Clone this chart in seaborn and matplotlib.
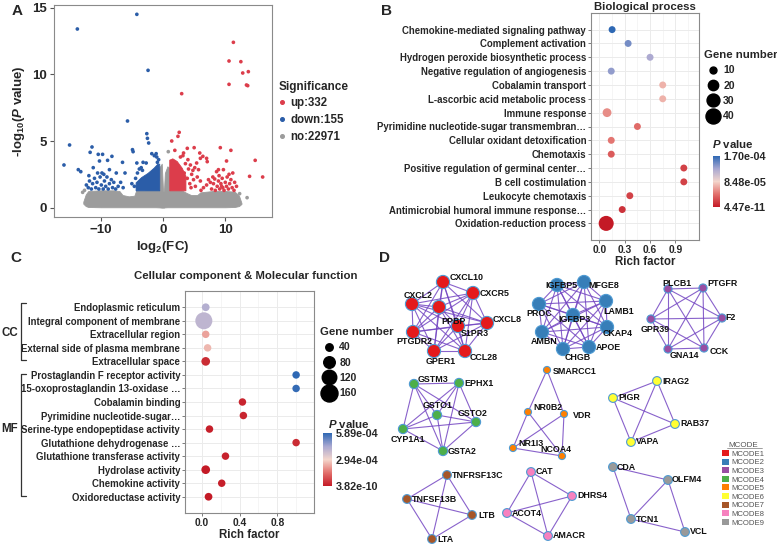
import itertools
import pandas as pd
import matplotlib
matplotlib.use("Agg")
import matplotlib.pyplot as plt
import seaborn as sns
from matplotlib.colors import LinearSegmentedColormap, Normalize
from matplotlib.cm import ScalarMappable
from matplotlib.lines import Line2D
from matplotlib.patches import Patch

# ---------------- A: volcano data ----------------
up_x = [11.3, 10.6, 12.5, 13.7, 12.8, 10.6, 13.4, 13.6, 3.0,
        2.6, 2.4, 1.4, 1.9, 3.9, 5.0, 5.9, 6.4, 6.0, 7.0, 7.1, 9.2, 10.9, 10.2, 14.8, 13.9, 16.0,
        8.9, 9.7, 8.6, 11.2, 5.4, 5.7, 4.9, 6.5, 7.0, 7.3, 8.3,
        7.8, 8.1, 8.4, 8.7, 8.9, 9.1, 9.3, 9.5, 9.6, 9.8, 10.0, 10.2, 10.3, 10.5, 10.7, 10.9, 11.1, 11.4, 11.5,
        9.0, 8.0, 10.6, 11.8, 7.6, 9.4,
        3.2, 3.6, 4.1, 4.4, 4.6, 4.3, 4.8, 3.4, 3.9, 4.0, 2.8, 3.3, 4.5, 5.2, 5.5, 6.0, 6.1, 5.1]
up_y = [12.4, 11.0, 10.95, 10.2, 10.1, 9.25, 9.2, 9.15, 8.55,
        5.65, 5.35, 5.0, 4.3, 4.45, 4.5, 4.1, 3.85, 3.7, 3.7, 3.45, 4.5, 4.3, 3.5, 3.55, 2.35, 2.3,
        2.85, 2.85, 2.7, 2.6, 3.35, 2.85, 2.1, 1.5, 1.7, 2.1, 2.15,
        1.4, 1.8, 1.3, 1.6, 2.0, 1.4, 1.8, 2.2, 1.5, 1.3, 1.9, 1.6, 2.3, 1.4, 1.8, 2.1, 1.5, 1.3, 1.9,
        2.4, 2.3, 2.5, 1.6, 1.9, 1.6,
        3.9, 3.3, 2.9, 3.2, 2.5, 1.8, 2.8, 2.6, 2.2, 3.6, 3.8, 4.1, 1.5, 1.6, 2.3, 2.0, 1.3, 3.0]

down_x = [-13.75, -4.2, -2.4, -5.7,
          -15.0, -15.9, -13.6, -13.2, -11.4, -11.7, -10.4, -9.7, -8.9, -8.2, -10.2, -11.2, -9.8, -8.6,
          -7.5, -6.5, -6.1, -4.9, -4.8, -4.2, -2.6, -2.5, -2.3, -1.1, -1.8, -1.4, -2.7, -3.2, -3.5, -1.0,
          -12.0, -11.8, -11.5, -11.3, -11.0, -10.8, -10.6, -10.3, -10.1, -9.9, -9.6, -9.4, -9.2, -9.0,
          -8.8, -8.6, -8.3, -8.1, -7.9, -7.6, -7.2, -10.5, -11.9, -12.3, -9.5, -6.8, -6.4,
          -4.6, -4.4, -4.1, -3.8, -4.0, -5.0, -3.3, -0.9, -0.7]
down_y = [13.4, 14.5, 10.3, 6.5,
          4.7, 3.2, 2.85, 2.7, 4.55, 4.15, 4.0, 4.0, 3.55, 3.85, 3.5, 3.0, 2.6, 2.85,
          2.6, 3.4, 2.6, 4.35, 4.2, 3.35, 5.55, 5.2, 4.85, 4.05, 4.05, 3.9, 3.35, 3.4, 3.0, 3.8,
          1.5, 2.0, 1.4, 1.8, 2.2, 1.5, 1.9, 1.4, 2.3, 1.7, 1.4, 2.0, 1.6, 2.3,
          1.4, 1.8, 2.1, 1.5, 1.9, 1.4, 1.6, 2.6, 2.4, 1.7, 2.5, 1.9, 1.5,
          1.6, 2.2, 2.6, 2.9, 1.5, 1.8, 2.8, 3.4, 3.6]

grey_x = [0.85, -12.9, -12.6, 12.3, 13.5]
grey_y = [4.2, 1.15, 1.3, 1.05, 0.75]

# dense areas of the cloud: outline of the grey mass and of the solid coloured blocks
cloud_x = [-12.8, -12.4, -12.0, -10.0, -8.0, -7.0, -6.5, -5.5, -4.6, -4.3, -3.0, -1.2, -0.6, -0.2,
           0.0, 0.15, 0.3, 0.7, 1.0, 1.1, 3.0, 3.8, 4.5, 5.5, 6.0, 8.0, 10.0, 11.5, 12.2, 12.6]
cloud_top = [0.45, 1.0, 1.25, 1.3, 1.3, 1.25, 0.95, 0.85, 0.9, 1.3, 1.3, 1.6, 3.0, 3.3,
             1.3, 1.2, 2.6, 3.1, 3.0, 1.3, 1.3, 1.1, 0.95, 0.95, 1.15, 1.25, 1.25, 1.2, 0.9, 0.35]
cloud_bottom = [0.3, 0.12, 0.05, 0.03, 0.03, 0.03, 0.03, 0.03, 0.03, 0.03, 0.03, 0.03, 0.02, 0.0,
                0.0, 0.0, 0.02, 0.03, 0.03, 0.03, 0.03, 0.03, 0.03, 0.03, 0.03, 0.03, 0.03, 0.05, 0.12, 0.28]
down_block_x = [-4.4, -3.5, -2.5, -1.5, -0.9, -0.6]
down_block_top = [1.9, 2.3, 2.6, 3.0, 3.3, 3.3]
up_block_x = [1.0, 1.5, 2.2, 3.0, 3.6]
up_block_top = [3.6, 3.7, 3.5, 3.0, 2.4]
sig_floor = 1.3
sig_labels = ["up:332", "down:155", "no:22971"]

# ---------------- B: biological process ----------------
bp_terms = ["Chemokine-mediated signaling pathway", "Complement activation",
            "Hydrogen peroxide biosynthetic process", "Negative regulation of angiogenesis",
            "Cobalamin transport", "L-ascorbic acid metabolic process", "Immune response",
            "Pyrimidine nucleotide-sugar transmembran\u2026", "Cellular oxidant detoxification",
            "Chemotaxis", "Positive regulation of germinal center\u2026", "B cell costimulation",
            "Leukocyte chemotaxis", "Antimicrobial humoral immune response\u2026",
            "Oxidation-reduction process"]
bp_rich = [0.15, 0.34, 0.60, 0.14, 0.75, 0.75, 0.09, 0.45, 0.14, 0.14, 1.0, 1.0, 0.36, 0.27, 0.08]
bp_genes = [8, 6, 5, 8, 4, 4, 15, 6, 10, 10, 5, 5, 6, 8, 75]
bp_p = [1.70e-4, 1.45e-4, 1.25e-4, 1.35e-4, 7.0e-5, 7.0e-5, 5.5e-5, 4.0e-5,
        4.5e-5, 3.2e-5, 2.0e-5, 2.0e-5, 2.0e-5, 1.2e-5, 4.47e-11]
bp_p_range = (4.47e-11, 1.70e-4)
bp_p_labels = ["4.47e-11", "8.48e-05", "1.70e-04"]
bp_size_breaks = [10, 20, 30, 40]

# ---------------- C: cellular component & molecular function ----------------
cm_terms = ["Endoplasmic reticulum", "Integral component of membrane", "Extracellular region",
            "External side of plasma membrane", "Extracellular space",
            "Prostaglandin F receptor activity", "15-oxoprostaglandin 13-oxidase \u2026",
            "Cobalamin binding", "Pyrimidine nucleotide-sugar\u2026",
            "Serine-type endopeptidase activity", "Glutathione dehydrogenase \u2026",
            "Glutathione transferase activity", "Hydrolase activity", "Chemokine activity",
            "Oxidoreductase activity"]
cm_rich = [0.04, 0.02, 0.04, 0.06, 0.04, 1.0, 1.0, 0.43, 0.44, 0.08, 1.0, 0.25, 0.04, 0.21, 0.07]
cm_genes = [42, 280, 38, 25, 50, 19, 19, 20, 20, 25, 20, 22, 50, 22, 42]
cm_p = [4.2e-4, 4.0e-4, 2.2e-4, 2.5e-4, 3.0e-5, 5.89e-4, 5.8e-4, 2.0e-5, 2.0e-5,
        1.0e-5, 3.0e-5, 1.5e-5, 1.0e-6, 1.0e-5, 3.82e-10]
cm_p_range = (3.82e-10, 5.89e-4)
cm_p_labels = ["3.82e-10", "2.94e-04", "5.89e-04"]
cm_size_breaks = [40, 80, 120, 160]
cm_groups = ["CC", "MF"]

# ---------------- D: MCODE modules (node layout in image pixels) ----------------
mcode_nodes = {
    "MCODE1": {"CXCL10": (443, 282), "CXCR5": (473, 293), "CXCL2": (412, 304), "PPBP": (439, 307),
               "CXCL8": (487, 323), "S1PR3": (458, 326), "PTGDR2": (413, 332), "GPER1": (434, 351),
               "CCL28": (465, 351)},
    "MCODE2": {"IGFBP5": (557, 285), "MFGE8": (584, 282), "PROC": (539, 304), "LAMB1": (606, 301),
               "IGFBP3": (573, 315), "CKAP4": (607, 327), "AMBN": (542, 332), "CHGB": (563, 349),
               "APOE": (589, 347)},
    "MCODE3": {"PLCB1": (668, 289), "PTGFR": (703, 288), "GPR39": (651, 319), "F2": (722, 318),
               "GNA14": (668, 349), "CCK": (704, 348)},
    "MCODE4": {"GSTM3": (414, 384), "EPHX1": (459, 383), "GSTO1": (437, 415), "GSTO2": (476, 422),
               "CYP1A1": (403, 429), "GSTA2": (443, 451)},
    "MCODE5": {"SMARCC1": (547, 370), "NR0B2": (528, 412), "VDR": (564, 414), "NR1I3": (513, 448),
               "NCOA4": (562, 456)},
    "MCODE6": {"IRAG2": (657, 381), "PIGR": (613, 398), "RAB37": (675, 424), "VAPA": (631, 442)},
    "MCODE7": {"TNFRSF13C": (447, 475), "TNFSF13B": (407, 499), "LTB": (472, 515), "LTA": (432, 539)},
    "MCODE8": {"CAT": (531, 472), "DHRS4": (572, 496), "ACOT4": (507, 513), "AMACR": (548, 536)},
    "MCODE9": {"CDA": (613, 467), "OLFM4": (668, 480), "TCN1": (631, 519), "VCL": (685, 532)},
}
mcode_label_pos = {
    "CXCL10": (450, 277), "CXCR5": (480, 294), "CXCL2": (404, 295), "PPBP": (441, 321),
    "CXCL8": (493, 319), "S1PR3": (461, 334), "PTGDR2": (396, 341), "GPER1": (426, 361),
    "CCL28": (470, 358), "IGFBP5": (545, 285), "MFGE8": (588, 285), "PROC": (526, 313),
    "LAMB1": (603, 312), "IGFBP3": (558, 320), "CKAP4": (603, 334), "AMBN": (531, 342),
    "CHGB": (565, 358), "APOE": (596, 348), "PLCB1": (662, 283), "PTGFR": (707, 284),
    "GPR39": (641, 330), "F2": (725, 318), "GNA14": (670, 355), "CCK": (710, 352),
    "GSTM3": (418, 379), "EPHX1": (464, 383), "GSTO1": (423, 405), "GSTO2": (458, 414),
    "CYP1A1": (391, 440), "GSTA2": (448, 451), "SMARCC1": (553, 371), "NR0B2": (533, 407),
    "VDR": (573, 416), "NR1I3": (518, 443), "NCOA4": (540, 449), "IRAG2": (662, 381),
    "PIGR": (618, 398), "RAB37": (680, 424), "VAPA": (636, 442), "TNFRSF13C": (452, 475),
    "TNFSF13B": (412, 499), "LTB": (478, 515), "LTA": (437, 539), "CAT": (536, 472),
    "DHRS4": (577, 496), "ACOT4": (512, 513), "AMACR": (553, 536), "CDA": (617, 467),
    "OLFM4": (672, 480), "TCN1": (636, 519), "VCL": (690, 532),
}
sparse_edges = {
    "MCODE5": [("SMARCC1", "NR0B2"), ("SMARCC1", "VDR"), ("NR0B2", "NR1I3"), ("NR0B2", "NCOA4"),
               ("VDR", "NR1I3"), ("VDR", "NCOA4"), ("NR1I3", "NCOA4")],
    "MCODE9": [("CDA", "OLFM4"), ("CDA", "TCN1"), ("OLFM4", "TCN1"), ("OLFM4", "VCL"), ("TCN1", "VCL")],
}

# ---------------- styling ----------------
W, H = 777, 545
RED, BLUE, GREY = "#dc3d4b", "#2b5da8", "#9c9c9c"
GRIDC = "#ebebeb"
cmap = LinearSegmentedColormap.from_list(
    "pv", ["#c41a26", "#e2706c", "#f4d6cc", "#a9a8d1", "#2e68b4"])
MCODE_COLORS = ["#e41a1c", "#377eb8", "#984ea3", "#4daf4a", "#ff7f00",
                "#ffff33", "#a65628", "#f781bf", "#999999"]

sns.set_theme(style="ticks")
plt.rcParams["font.family"] = ["Liberation Sans", "DejaVu Sans"]
plt.rcParams["font.weight"] = "bold"
plt.rcParams["axes.labelweight"] = "bold"
plt.rcParams["axes.titleweight"] = "bold"
plt.rcParams["mathtext.fontset"] = "custom"
plt.rcParams["mathtext.rm"] = "Liberation Sans:bold"
plt.rcParams["mathtext.it"] = "Liberation Sans:italic:bold"
plt.rcParams["mathtext.bf"] = "Liberation Sans:bold"


def rect(l, t, r, b):
    return [l / W, 1 - b / H, (r - l) / W, (b - t) / H]


def fxy(x, y):
    return (x / W, 1 - y / H)


def frame(ax):
    for sp in ax.spines.values():
        sp.set_color("#8a8a8a")
        sp.set_linewidth(0.8)
        sp.set_visible(True)


fig = plt.figure(figsize=(W / 100, H / 100), dpi=100)

# ---------------- panel A ----------------
axA = fig.add_axes(rect(54, 5, 272, 217))
axA.fill_between(cloud_x, cloud_bottom, cloud_top, color=GREY, lw=0.6, ec=GREY)
axA.fill_between(down_block_x, sig_floor, down_block_top, color=BLUE, lw=0.6, ec=BLUE)
axA.fill_between(up_block_x, sig_floor, up_block_top, color=RED, lw=0.6, ec=RED)
volcano = pd.DataFrame({
    "log2fc": up_x + down_x + grey_x,
    "logp": up_y + down_y + grey_y,
    "group": ["up"] * len(up_x) + ["down"] * len(down_x) + ["no"] * len(grey_x),
})
sns.scatterplot(data=volcano, x="log2fc", y="logp", hue="group",
                palette={"up": RED, "down": BLUE, "no": GREY},
                s=7, linewidth=0, legend=False, ax=axA)
axA.set_xlim(-17.5, 17.5)
axA.set_ylim(-0.7, 15.2)
axA.set_xticks([-10, 0, 10])
axA.set_yticks([0, 5, 10, 15])
axA.tick_params(length=3, width=0.8, color="#555555", labelsize=9.5, pad=2)
axA.set_xlabel(r"log$_{\mathrm{2}}$(FC)", fontsize=9.5, labelpad=2)
axA.set_ylabel(r"-log$_{\mathrm{10}}$($\mathit{P}$ value)", fontsize=9.5, labelpad=4)
frame(axA)
sig_handles = [Line2D([], [], ls="", marker="o", ms=2.6, color=c) for c in (RED, BLUE, GREY)]
fig.legend(sig_handles, sig_labels, title="Significance", loc="upper left",
           bbox_to_anchor=fxy(274, 76), frameon=False, alignment="left",
           fontsize=8.3, title_fontsize=8.5, handlelength=0.6, handletextpad=0.4,
           labelspacing=0.42, borderaxespad=0)


# ---------------- bubble panels ----------------
def bubble(ax, terms, rich, genes, pvals, prange, sizes, snorm, xticks, xminor, xlim):
    sns.scatterplot(x=rich, y=terms, hue=pvals, palette=cmap, hue_norm=prange,
                    size=genes, sizes=sizes, size_norm=snorm, linewidth=0,
                    legend=False, ax=ax, zorder=3)
    ax.set_xlim(*xlim)
    ax.set_ylim(len(terms) - 1 + 1.2, -1.2)
    ax.set_xticks(xticks)
    ax.set_xticklabels([f"{t:.1f}" for t in xticks])
    ax.set_xticks(xminor, minor=True)
    ax.grid(True, which="major", color=GRIDC, lw=0.7)
    ax.grid(True, which="minor", axis="x", color="#f2f2f2", lw=0.5)
    ax.set_axisbelow(True)
    ax.tick_params(which="major", length=2, width=0.6, color="#666666", pad=1.5)
    ax.tick_params(which="minor", length=0)
    ax.tick_params(axis="y", labelsize=6.9)
    ax.tick_params(axis="x", labelsize=7.4)
    ax.set_xlabel("Rich factor", fontsize=8.3, labelpad=1)
    ax.set_ylabel("")
    frame(ax)


def size_of(v, sizes, snorm):
    return sizes[0] + (sizes[1] - sizes[0]) * (v - snorm[0]) / (snorm[1] - snorm[0])


def side_legends(breaks, sizes, snorm, leg_xy, spacing, prange, plabels, bar, ptitle_xy):
    handles = [Line2D([], [], ls="", marker="o", color="black",
                      ms=size_of(b, sizes, snorm) ** 0.5) for b in breaks]
    fig.legend(handles, [str(b) for b in breaks], title="Gene number", loc="upper left",
               bbox_to_anchor=fxy(*leg_xy), frameon=False, alignment="left",
               fontsize=7.6, title_fontsize=8.2, handletextpad=0.2, labelspacing=spacing,
               borderaxespad=0, handlelength=1.6)
    cax = fig.add_axes(rect(*bar))
    lo, hi = prange
    cb = fig.colorbar(ScalarMappable(norm=Normalize(lo, hi), cmap=cmap), cax=cax,
                      ticks=[lo, (lo + hi) / 2, hi])
    cb.ax.set_yticklabels(plabels)
    cb.outline.set_visible(False)
    cb.ax.tick_params(length=2, color="white", width=0.8, labelsize=7.8, pad=0.5)
    fig.text(*fxy(*ptitle_xy), r"$\mathit{P}$ value", fontsize=8.2, va="center", ha="left")


axB = fig.add_axes(rect(591, 13, 699, 240))
bp_sizes, bp_snorm = (25, 117), (10, 40)
bubble(axB, bp_terms, bp_rich, bp_genes, bp_p, bp_p_range, bp_sizes, bp_snorm,
       [0.0, 0.3, 0.6, 0.9], [0.15, 0.45, 0.75, 1.05], (-0.1, 1.18))
axB.set_title("Biological process", fontsize=8.2, pad=2)
side_legends(bp_size_breaks, bp_sizes, bp_snorm, (700, 46), 0.5, bp_p_range, bp_p_labels,
             (713, 156, 720, 207), (712, 144))

axC = fig.add_axes(rect(185, 291, 314, 513))
cm_sizes, cm_snorm = (29, 150), (40, 160)
bubble(axC, cm_terms, cm_rich, cm_genes, cm_p, cm_p_range, cm_sizes, cm_snorm,
       [0.0, 0.4, 0.8], [0.2, 0.6, 1.0], (-0.18, 1.19))
fig.text(*fxy(246, 276), "Cellular component & Molecular function", fontsize=8.2,
         ha="center", va="center")
side_legends(cm_size_breaks, cm_sizes, cm_snorm, (316, 323), 0.5, cm_p_range, cm_p_labels,
             (323, 433, 332, 486), (328, 424))

# CC / MF brackets
for (top, bot, ymid), name in zip([(303, 360, 333), (374, 496, 429)], cm_groups):
    xs = [26 / W, 21 / W, 21 / W, 26 / W]
    ys = [1 - top / H, 1 - top / H, 1 - bot / H, 1 - bot / H]
    fig.add_artist(Line2D(xs, ys, color="#333333", lw=0.9))
    fig.text(*fxy(9.5, ymid), name, fontsize=8.3, ha="center", va="center")

# ---------------- panel D: MCODE networks ----------------
axD = fig.add_axes(rect(385, 265, 777, 545))
axD.set_xlim(385, 777)
axD.set_ylim(545, 265)
axD.axis("off")
module_names = list(mcode_nodes)
module_colors = dict(zip(module_names, MCODE_COLORS))
node_area = {"MCODE1": 90, "MCODE2": 90, "MCODE3": 34, "MCODE4": 44, "MCODE5": 26,
             "MCODE6": 40, "MCODE7": 40, "MCODE8": 40, "MCODE9": 40}

rows = []
for mod, nodes in mcode_nodes.items():
    pairs = sparse_edges.get(mod, list(itertools.combinations(nodes, 2)))
    for a, b in pairs:
        (x1, y1), (x2, y2) = nodes[a], nodes[b]
        axD.plot([x1, x2], [y1, y2], color="#7446c2", lw=0.8, alpha=0.85, zorder=1)
    for name, (x, y) in nodes.items():
        rows.append({"x": x, "y": y, "module": mod, "gene": name})
net = pd.DataFrame(rows)
sns.scatterplot(data=net, x="x", y="y", hue="module", palette=module_colors,
                size="module", sizes=node_area, edgecolor="#4f9bd3", linewidth=0.8,
                legend=False, ax=axD, zorder=3)
for gene, (lx, ly) in mcode_label_pos.items():
    axD.text(lx, ly, gene, fontsize=6.4, ha="left", va="center", zorder=4, color="#111111")

mc_handles = [Patch(facecolor=module_colors[m], edgecolor="none") for m in module_names]
legD = fig.legend(mc_handles, module_names, title="MCODE", loc="upper left",
                  bbox_to_anchor=fxy(719, 439), frameon=False, alignment="center",
                  prop={"size": 5.6, "weight": "normal"},
                  title_fontproperties={"size": 5.8, "weight": "normal"},
                  handlelength=0.9, handleheight=0.8, handletextpad=0.3, labelspacing=0.12,
                  borderaxespad=0)
for t in legD.get_texts():
    t.set_color("#555555")
legD.get_title().set_color("#555555")
fig.add_artist(Line2D([727 / W, 762 / W], [1 - 448 / H, 1 - 448 / H], color="#777777", lw=0.5))

# panel letters
for letter, (x, y) in zip("ABCD", [(17, 11), (387, 11), (16, 258), (385, 258)]):
    fig.text(*fxy(x, y), letter, fontsize=11, ha="center", va="center")

fig.savefig("out.png", dpi=100, facecolor="white")
